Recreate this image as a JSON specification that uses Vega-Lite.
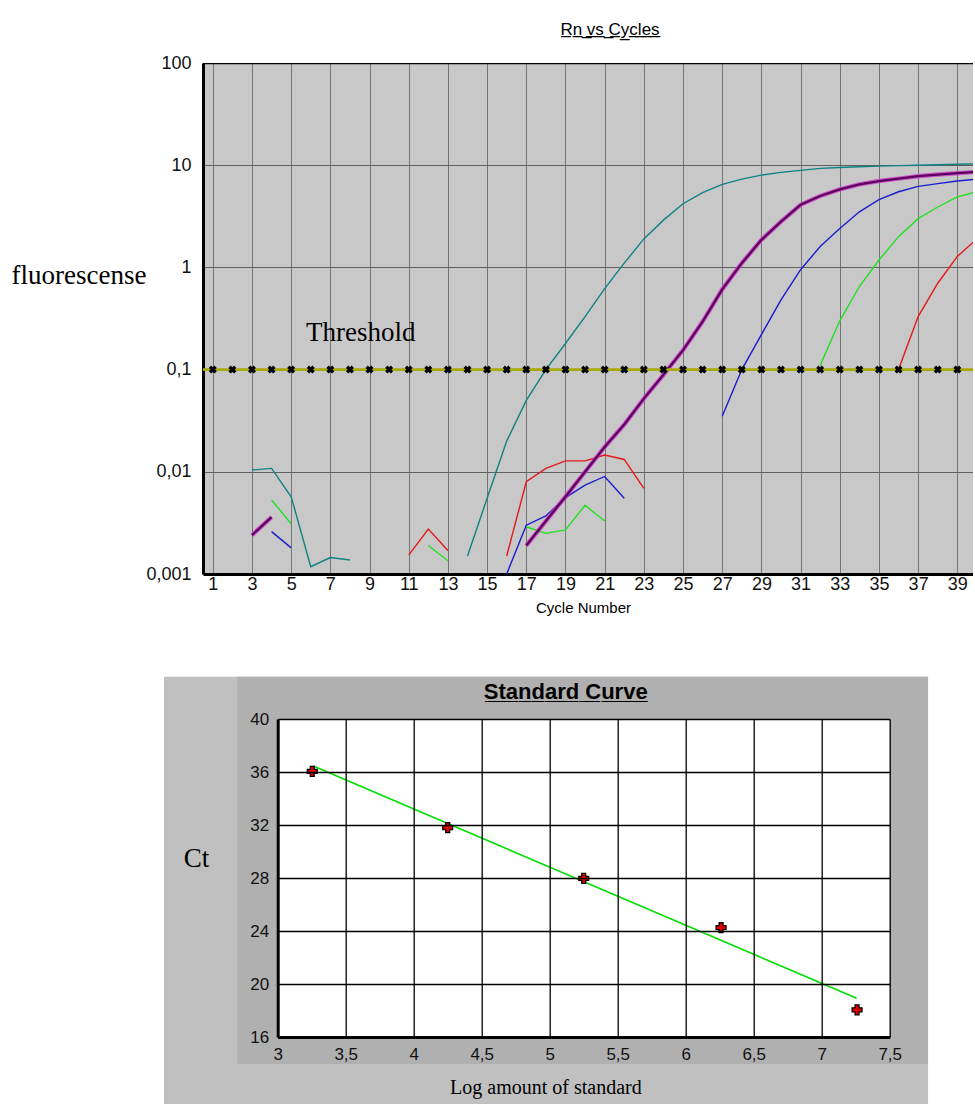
{
  "$schema": "https://vega.github.io/schema/vega-lite/v6.json",
  "background": "white",
  "padding": {"left": 11, "top": 21, "right": 0, "bottom": 0},
  "config": {
    "locale": {"number": {"decimal": ",", "thousands": ".", "grouping": [3], "currency": ["", ""]}},
    "view": {"stroke": null},
    "font": "Liberation Sans",
    "title": {"font": "Liberation Sans", "color": "#000"},
    "axis": {"labelFont": "Liberation Sans", "labelColor": "#111", "titleColor": "#000"}
  },
  "datasets": {
    "curves": [
      {"s": "A", "g": "A1", "c": 3, "v": 0.0104}, {"s": "A", "g": "A1", "c": 4, "v": 0.0108}, {"s": "A", "g": "A1", "c": 5, "v": 0.0057},
      {"s": "A", "g": "A1", "c": 6, "v": 0.00118}, {"s": "A", "g": "A1", "c": 7, "v": 0.00145}, {"s": "A", "g": "A1", "c": 8, "v": 0.00137},
      {"s": "A", "g": "A2", "c": 14, "v": 0.0015}, {"s": "A", "g": "A2", "c": 15, "v": 0.0055}, {"s": "A", "g": "A2", "c": 16, "v": 0.02},
      {"s": "A", "g": "A2", "c": 17, "v": 0.05}, {"s": "A", "g": "A2", "c": 18, "v": 0.1}, {"s": "A", "g": "A2", "c": 19, "v": 0.18},
      {"s": "A", "g": "A2", "c": 20, "v": 0.33}, {"s": "A", "g": "A2", "c": 21, "v": 0.62}, {"s": "A", "g": "A2", "c": 22, "v": 1.1},
      {"s": "A", "g": "A2", "c": 23, "v": 1.9}, {"s": "A", "g": "A2", "c": 24, "v": 2.9}, {"s": "A", "g": "A2", "c": 25, "v": 4.2},
      {"s": "A", "g": "A2", "c": 26, "v": 5.4}, {"s": "A", "g": "A2", "c": 27, "v": 6.5}, {"s": "A", "g": "A2", "c": 28, "v": 7.3},
      {"s": "A", "g": "A2", "c": 29, "v": 8.0}, {"s": "A", "g": "A2", "c": 30, "v": 8.5}, {"s": "A", "g": "A2", "c": 31, "v": 8.9},
      {"s": "A", "g": "A2", "c": 32, "v": 9.3}, {"s": "A", "g": "A2", "c": 33, "v": 9.5}, {"s": "A", "g": "A2", "c": 34, "v": 9.65},
      {"s": "A", "g": "A2", "c": 35, "v": 9.8}, {"s": "A", "g": "A2", "c": 36, "v": 9.9}, {"s": "A", "g": "A2", "c": 37, "v": 10.0},
      {"s": "A", "g": "A2", "c": 38, "v": 10.1}, {"s": "A", "g": "A2", "c": 39, "v": 10.2}, {"s": "A", "g": "A2", "c": 40, "v": 10.3},

      {"s": "B", "g": "B1", "c": 3, "v": 0.0024}, {"s": "B", "g": "B1", "c": 4, "v": 0.0036},
      {"s": "B", "g": "B2", "c": 17, "v": 0.0019}, {"s": "B", "g": "B2", "c": 18, "v": 0.0033}, {"s": "B", "g": "B2", "c": 19, "v": 0.0057},
      {"s": "B", "g": "B2", "c": 20, "v": 0.0100}, {"s": "B", "g": "B2", "c": 21, "v": 0.0175}, {"s": "B", "g": "B2", "c": 22, "v": 0.029},
      {"s": "B", "g": "B2", "c": 23, "v": 0.052}, {"s": "B", "g": "B2", "c": 24, "v": 0.089}, {"s": "B", "g": "B2", "c": 25, "v": 0.155},
      {"s": "B", "g": "B2", "c": 26, "v": 0.295}, {"s": "B", "g": "B2", "c": 27, "v": 0.61}, {"s": "B", "g": "B2", "c": 28, "v": 1.1},
      {"s": "B", "g": "B2", "c": 29, "v": 1.86}, {"s": "B", "g": "B2", "c": 30, "v": 2.8}, {"s": "B", "g": "B2", "c": 31, "v": 4.1},
      {"s": "B", "g": "B2", "c": 32, "v": 5.0}, {"s": "B", "g": "B2", "c": 33, "v": 5.8}, {"s": "B", "g": "B2", "c": 34, "v": 6.5},
      {"s": "B", "g": "B2", "c": 35, "v": 7.0}, {"s": "B", "g": "B2", "c": 36, "v": 7.4}, {"s": "B", "g": "B2", "c": 37, "v": 7.8},
      {"s": "B", "g": "B2", "c": 38, "v": 8.1}, {"s": "B", "g": "B2", "c": 39, "v": 8.35}, {"s": "B", "g": "B2", "c": 40, "v": 8.6},

      {"s": "C", "g": "C1", "c": 4, "v": 0.0026}, {"s": "C", "g": "C1", "c": 5, "v": 0.0018},
      {"s": "C", "g": "C2", "c": 16, "v": 0.001}, {"s": "C", "g": "C2", "c": 17, "v": 0.003}, {"s": "C", "g": "C2", "c": 18, "v": 0.0037},
      {"s": "C", "g": "C2", "c": 19, "v": 0.0056}, {"s": "C", "g": "C2", "c": 20, "v": 0.0074}, {"s": "C", "g": "C2", "c": 21, "v": 0.009},
      {"s": "C", "g": "C2", "c": 22, "v": 0.0055},
      {"s": "C", "g": "C3", "c": 27, "v": 0.035}, {"s": "C", "g": "C3", "c": 28, "v": 0.1}, {"s": "C", "g": "C3", "c": 29, "v": 0.22},
      {"s": "C", "g": "C3", "c": 30, "v": 0.48}, {"s": "C", "g": "C3", "c": 31, "v": 0.95}, {"s": "C", "g": "C3", "c": 32, "v": 1.6},
      {"s": "C", "g": "C3", "c": 33, "v": 2.4}, {"s": "C", "g": "C3", "c": 34, "v": 3.5}, {"s": "C", "g": "C3", "c": 35, "v": 4.6},
      {"s": "C", "g": "C3", "c": 36, "v": 5.5}, {"s": "C", "g": "C3", "c": 37, "v": 6.2}, {"s": "C", "g": "C3", "c": 38, "v": 6.6},
      {"s": "C", "g": "C3", "c": 39, "v": 7.0}, {"s": "C", "g": "C3", "c": 40, "v": 7.3},

      {"s": "D", "g": "D1", "c": 4, "v": 0.0053}, {"s": "D", "g": "D1", "c": 5, "v": 0.0031},
      {"s": "D", "g": "D2", "c": 12, "v": 0.0019}, {"s": "D", "g": "D2", "c": 13, "v": 0.00135},
      {"s": "D", "g": "D3", "c": 17, "v": 0.0029}, {"s": "D", "g": "D3", "c": 18, "v": 0.0025}, {"s": "D", "g": "D3", "c": 19, "v": 0.0027},
      {"s": "D", "g": "D3", "c": 20, "v": 0.0047}, {"s": "D", "g": "D3", "c": 21, "v": 0.0033},
      {"s": "D", "g": "D4", "c": 32, "v": 0.11}, {"s": "D", "g": "D4", "c": 33, "v": 0.3}, {"s": "D", "g": "D4", "c": 34, "v": 0.65},
      {"s": "D", "g": "D4", "c": 35, "v": 1.18}, {"s": "D", "g": "D4", "c": 36, "v": 2.0}, {"s": "D", "g": "D4", "c": 37, "v": 3.0},
      {"s": "D", "g": "D4", "c": 38, "v": 3.9}, {"s": "D", "g": "D4", "c": 39, "v": 4.9}, {"s": "D", "g": "D4", "c": 40, "v": 5.5},

      {"s": "E", "g": "E1", "c": 11, "v": 0.00153}, {"s": "E", "g": "E1", "c": 12, "v": 0.00275}, {"s": "E", "g": "E1", "c": 13, "v": 0.0017},
      {"s": "E", "g": "E2", "c": 16, "v": 0.0015}, {"s": "E", "g": "E2", "c": 17, "v": 0.008}, {"s": "E", "g": "E2", "c": 18, "v": 0.0108},
      {"s": "E", "g": "E2", "c": 19, "v": 0.0128}, {"s": "E", "g": "E2", "c": 20, "v": 0.0128}, {"s": "E", "g": "E2", "c": 21, "v": 0.0146},
      {"s": "E", "g": "E2", "c": 22, "v": 0.0132}, {"s": "E", "g": "E2", "c": 23, "v": 0.0069},
      {"s": "E", "g": "E3", "c": 36, "v": 0.1}, {"s": "E", "g": "E3", "c": 37, "v": 0.33}, {"s": "E", "g": "E3", "c": 38, "v": 0.7},
      {"s": "E", "g": "E3", "c": 39, "v": 1.28}, {"s": "E", "g": "E3", "c": 40, "v": 1.9}
    ],
    "thr": [
      {"c": 1, "v": 0.1}, {"c": 2, "v": 0.1}, {"c": 3, "v": 0.1}, {"c": 4, "v": 0.1}, {"c": 5, "v": 0.1}, {"c": 6, "v": 0.1},
      {"c": 7, "v": 0.1}, {"c": 8, "v": 0.1}, {"c": 9, "v": 0.1}, {"c": 10, "v": 0.1}, {"c": 11, "v": 0.1}, {"c": 12, "v": 0.1},
      {"c": 13, "v": 0.1}, {"c": 14, "v": 0.1}, {"c": 15, "v": 0.1}, {"c": 16, "v": 0.1}, {"c": 17, "v": 0.1}, {"c": 18, "v": 0.1},
      {"c": 19, "v": 0.1}, {"c": 20, "v": 0.1}, {"c": 21, "v": 0.1}, {"c": 22, "v": 0.1}, {"c": 23, "v": 0.1}, {"c": 24, "v": 0.1},
      {"c": 25, "v": 0.1}, {"c": 26, "v": 0.1}, {"c": 27, "v": 0.1}, {"c": 28, "v": 0.1}, {"c": 29, "v": 0.1}, {"c": 30, "v": 0.1},
      {"c": 31, "v": 0.1}, {"c": 32, "v": 0.1}, {"c": 33, "v": 0.1}, {"c": 34, "v": 0.1}, {"c": 35, "v": 0.1}, {"c": 36, "v": 0.1},
      {"c": 37, "v": 0.1}, {"c": 38, "v": 0.1}, {"c": 39, "v": 0.1}
    ],
    "std": [
      {"x": 3.254, "ct": 36.05}, {"x": 4.25, "ct": 31.8}, {"x": 5.25, "ct": 27.97}, {"x": 6.26, "ct": 24.25}, {"x": 7.26, "ct": 18.05}
    ],
    "fit": [
      {"x": 3.262, "ct": 36.45}, {"x": 7.257, "ct": 18.92}
    ]
  },
  "bounds": "flush",
  "spacing": 145,
  "vconcat": [
    {
      "width": 770,
      "height": 511,
      "title": {"text": "R̲n̲ ̲v̲s̲ ̲C̲y̲c̲l̲e̲s̲", "fontSize": 17, "fontWeight": "normal", "anchor": "middle", "frame": "group", "dx": 22, "baseline": "middle", "offset": 7},
      "view": {"fill": "#c8c8c8", "stroke": null},
      "layer": [
        {
          "data": {"name": "curves"},
          "transform": [{"filter": "datum.s != 'B'"}],
          "mark": {"type": "line", "clip": true, "strokeWidth": 1.4},
          "encoding": {
            "x": {
              "field": "c", "type": "quantitative",
              "scale": {"domain": [0.5, 39.8], "nice": false, "zero": false},
              "axis": {
                "values": [1,2,3,4,5,6,7,8,9,10,11,12,13,14,15,16,17,18,19,20,21,22,23,24,25,26,27,28,29,30,31,32,33,34,35,36,37,38,39],
                "grid": true, "gridColor": "#747474", "gridWidth": 1, "gridOpacity": 1,
                "domain": true, "domainColor": "#000", "domainWidth": 3, "ticks": false,
                "labelExpr": "datum.value % 2 == 1 ? datum.label : ''",
                "labelFontSize": 18, "labelBaseline": "middle", "labelPadding": 10, "labelFlush": false, "labelOverlap": false,
                "title": "Cycle Number", "titleFontSize": 15, "titleFontWeight": "normal",
                "titleX": 380, "titleY": 38, "titleAlign": "center", "titleBaseline": "alphabetic"
              }
            },
            "y": {
              "field": "v", "type": "quantitative",
              "scale": {"type": "log", "domain": [0.001, 100], "nice": false},
              "axis": {
                "values": [0.001, 0.01, 0.1, 1, 10, 100], "format": "~g",
                "grid": true, "gridColor": "#606060", "gridWidth": 1, "gridOpacity": 1,
                "domain": true, "domainColor": "#000", "domainWidth": 3, "ticks": false,
                "labelFontSize": 18, "labelPadding": 12, "labelFlush": false, "labelOverlap": false,
                "title": "fluorescense", "titleFont": "Liberation Serif", "titleFontSize": 27, "titleFontWeight": "normal",
                "titleAngle": 0, "titleX": -192, "titleY": 220.5, "titleAlign": "left", "titleBaseline": "alphabetic"
              }
            },
            "color": {"field": "s", "type": "nominal", "scale": {"domain": ["A", "C", "D", "E"], "range": ["#0f8282", "#1c1cd0", "#22e022", "#e41818"]}, "legend": null},
            "detail": {"field": "g"}
          }
        },
        {
          "data": {"name": "curves"},
          "transform": [{"filter": "datum.s == 'B'"}],
          "mark": {"type": "line", "clip": true, "strokeWidth": 4.4, "color": "#d030d0", "opacity": 0.75},
          "encoding": {"x": {"field": "c", "type": "quantitative"}, "y": {"field": "v", "type": "quantitative"}, "detail": {"field": "g"}}
        },
        {
          "data": {"name": "curves"},
          "transform": [{"filter": "datum.s == 'B'"}],
          "mark": {"type": "line", "clip": true, "strokeWidth": 2.3, "color": "#5c005c"},
          "encoding": {"x": {"field": "c", "type": "quantitative"}, "y": {"field": "v", "type": "quantitative"}, "detail": {"field": "g"}}
        },
        {
          "data": {"values": [{}]},
          "mark": {"type": "rule", "color": "#a8a800", "strokeWidth": 2.6, "clip": true},
          "encoding": {"y": {"datum": 0.1}}
        },
        {
          "data": {"name": "thr"},
          "mark": {"type": "point", "shape": "cross", "angle": 45, "filled": true, "size": 65, "color": "#000", "opacity": 1},
          "encoding": {"x": {"field": "c", "type": "quantitative"}, "y": {"field": "v", "type": "quantitative"}}
        },
        {
          "data": {"values": [{}]},
          "mark": {"type": "rule", "color": "#000", "strokeWidth": 2.5, "clip": true},
          "encoding": {"y": {"datum": 100}}
        },
        {
          "data": {"values": [{"label": "Threshold"}]},
          "mark": {"type": "text", "font": "Liberation Serif", "fontSize": 27, "color": "#000", "align": "center", "baseline": "alphabetic"},
          "encoding": {"x": {"datum": 8.55}, "y": {"datum": 0.19}, "text": {"field": "label"}}
        }
      ]
    },
    {
      "bounds": "flush",
      "spacing": 14.7,
      "hconcat": [
        {"width": 60, "height": 10, "data": {"values": []}, "mark": "point"},
        {
          "width": 612,
          "height": 318,
          "title": {"text": "S̲t̲a̲n̲d̲a̲r̲d̲ ̲C̲u̲r̲v̲e̲", "fontSize": 22, "fontWeight": "bold", "anchor": "middle", "frame": "group", "dx": -18, "baseline": "middle", "offset": -37.3, "zindex": 1},
          "layer": [
            {
              "data": {"values": [{}]},
              "mark": {"type": "rect", "color": "#c0c0c0", "clip": false},
              "encoding": {"x": {"datum": 2.164}, "x2": {"datum": 7.782}, "y": {"datum": 10.8}, "y2": {"datum": 43.19}}
            },
            {
              "data": {"values": [{}]},
              "mark": {"type": "rect", "color": "#b0b0b0", "clip": false},
              "encoding": {"x": {"datum": 2.703}, "x2": {"datum": 7.782}, "y": {"datum": 13.96}, "y2": {"datum": 43.19}}
            },
            {
              "data": {"values": [{}]},
              "mark": {"type": "rect", "color": "#ffffff"},
              "encoding": {"x": {"datum": 3}, "x2": {"datum": 7.5}, "y": {"datum": 16}, "y2": {"datum": 40}}
            },
            {
              "data": {"name": "fit"},
              "mark": {"type": "line", "color": "#00dd00", "strokeWidth": 1.6},
              "encoding": {"x": {"field": "x", "type": "quantitative"}, "y": {"field": "ct", "type": "quantitative"}}
            },
            {
              "data": {"name": "std"},
              "mark": {"type": "point", "shape": "cross", "filled": true, "size": 100, "fill": "#e00000", "stroke": "#000", "strokeWidth": 1.2, "opacity": 1},
              "encoding": {
                "x": {
                  "field": "x", "type": "quantitative",
                  "scale": {"domain": [3, 7.5], "nice": false, "zero": false},
                  "axis": {
                    "values": [3, 3.5, 4, 4.5, 5, 5.5, 6, 6.5, 7, 7.5], "format": "~g",
                    "grid": true, "gridColor": "#000", "gridWidth": 1.3, "gridOpacity": 1,
                    "domain": true, "domainColor": "#000", "domainWidth": 3, "ticks": false,
                    "labelFontSize": 17, "labelBaseline": "middle", "labelPadding": 17.7, "labelFlush": false, "labelOverlap": false,
                    "title": "Log amount of standard", "titleFont": "Liberation Serif", "titleFontSize": 20, "titleFontWeight": "normal",
                    "titleX": 267.7, "titleY": 56, "titleAlign": "center", "titleBaseline": "alphabetic", "zindex": 1
                  }
                },
                "y": {
                  "field": "ct", "type": "quantitative",
                  "scale": {"domain": [16, 40], "nice": false, "zero": false},
                  "axis": {
                    "values": [16, 20, 24, 28, 32, 36, 40],
                    "grid": true, "gridColor": "#000", "gridWidth": 1.3, "gridOpacity": 1,
                    "domain": true, "domainColor": "#000", "domainWidth": 3, "ticks": false,
                    "labelFontSize": 17, "labelPadding": 9, "labelFlush": false, "labelOverlap": false,
                    "title": "Ct", "titleFont": "Liberation Serif", "titleFontSize": 27, "titleFontWeight": "normal",
                    "titleAngle": 0, "titleX": -81.7, "titleY": 147, "titleAlign": "center", "titleBaseline": "alphabetic", "zindex": 1
                  }
                }
              }
            }
          ]
        }
      ]
    }
  ]
}
